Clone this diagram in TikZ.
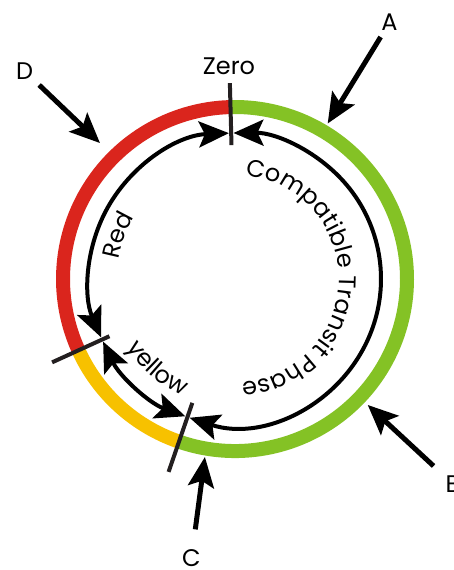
\documentclass[tikz,border=0pt]{standalone}
\usepackage{fontspec}
\setmainfont{Poppins}
\usetikzlibrary{arrows.meta,decorations.text}
\definecolor{ringred}{RGB}{218,37,29}
\definecolor{ringgreen}{RGB}{132,194,37}
\definecolor{ringyellow}{RGB}{247,193,0}
\definecolor{tickgrey}{RGB}{35,31,32}
\newcommand{\lblfont}{\fontsize{24}{24}\selectfont}
\begin{document}
\begin{tikzpicture}[x=1pt,y=1pt,
    band/.style={line width=14pt},
    tick/.style={line width=4pt,draw=tickgrey},
    span/.style={line width=4pt,{Stealth[length=30pt,width=26pt,inset=6pt]}-{Stealth[length=30pt,width=26pt,inset=6pt]}},
    callout/.style={line width=5pt,-{Stealth[length=30pt,width=26pt,inset=6pt]}},
    lbl/.style={font=\lblfont,inner sep=6pt}]
    \useasboundingbox (-235,-291) rectangle (218,279);
    % coloured ring
    \draw [band,ringred] (91.5:172) arc[start angle=91.5,end angle=204.5,radius=172];
    \draw [band,ringyellow] (204.5:172) arc[start angle=204.5,end angle=251,radius=172];
    \draw [band,ringgreen] (251:172) arc[start angle=251,end angle=451.5,radius=172];
    % phase limits
    \draw [tick] (91.5:134) -- (91.5:196);
    \draw [tick] (204.5:138) -- (204.5:201);
    \draw [tick] (251:131) -- (251:204);
    % inner arrows
    \draw [span] (92.4:146) arc[start angle=92.4,end angle=203.6,radius=146];
    \draw [span] (205.4:146) arc[start angle=205.4,end angle=250.1,radius=146];
    \draw [span] (251.9:146) arc[start angle=251.9,end angle=450.6,radius=146];
    % texts
    \node [lbl] (zero) at (-6,213) {Zero};
    \path [decorate,decoration={text along path,text align=center,text={|\lblfont|Compatible Transit Phase}}]
        (84:104) arc[start angle=84,end angle=-86,radius=104];
    \path [decorate,decoration={text along path,text align=center,text={|\lblfont|Red}}]
        (186:118) arc[start angle=186,end angle=133,radius=118];
    \path [decorate,decoration={text along path,text align=center,text={|\lblfont|yellow}}]
        (206:128) arc[start angle=206,end angle=252,radius=128];
    % callouts
    \node [lbl] (A) at (154.5,256.5) {A};
    \node [lbl] (B) at (218,-205) {B};
    \node [lbl] (C) at (-43.5,-279) {C};
    \node [lbl] (D) at (-210.5,208) {D};
    \coordinate (a) at (59.2:181);
    \coordinate (b) at (-43.5:183);
    \coordinate (c) at (260.4:180.5);
    \coordinate (d) at (134.8:191.6);
    \draw [callout] (A) -- (a);
    \draw [callout,shorten <=8pt] (B) -- (b);
    \draw [callout,shorten <=14pt] (C) -- (c);
    \draw [callout] (D) -- (d);
\end{tikzpicture}
\end{document}
